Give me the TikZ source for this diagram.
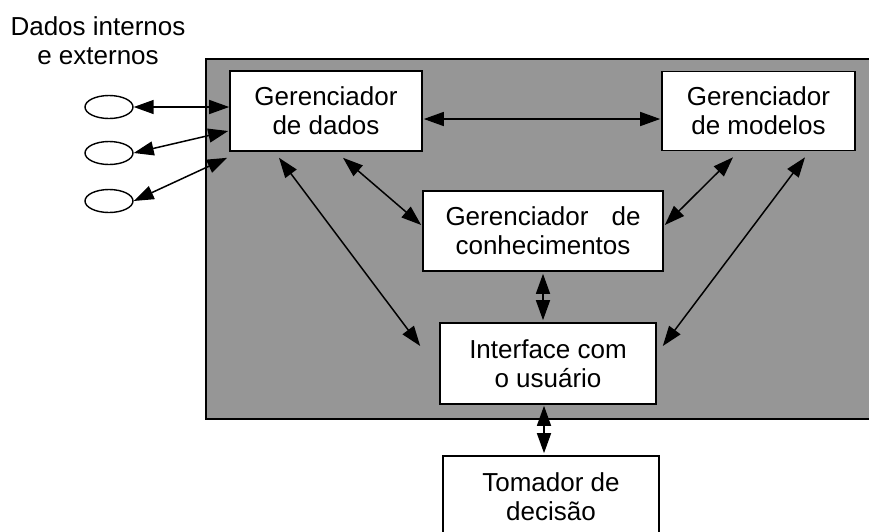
\documentclass[tikz,border=0pt]{standalone}
\usepackage{fontspec}
\setmainfont{Liberation Sans}
\usetikzlibrary{arrows.meta,calc,shapes.geometric}
\definecolor{panelgray}{RGB}{150,150,150}
\tikzset{
  box/.style={draw=black, fill=white, line width=1.6pt, inner sep=0pt, align=center,
    font=\fontsize{26}{29}\selectfont},
  link/.style={line width=1.5pt, {Triangle[length=20pt,width=14pt]}-{Triangle[length=20pt,width=14pt]}},
  src/.style={draw=black, fill=white, line width=1.4pt, ellipse, minimum width=48pt, minimum height=23pt, inner sep=0pt},
  lbl/.style={align=center, inner sep=0pt, font=\fontsize{26}{29}\selectfont}
}
\begin{document}
\begin{tikzpicture}[x=1pt,y=-1pt]
\clip (0,0) rectangle (869,531);
\fill[white] (0,0) rectangle (869,531);
% panel
\draw[fill=panelgray, line width=2.2pt] (206,59) rectangle (890,419);
% label
\node[lbl] (title) at (98,41) {Dados internos\\e externos};
% sources
\node[src] (e1) at (109,107) {};
\node[src] (e2) at (109,153) {};
\node[src] (e3) at (109,201) {};
% boxes
\node[box, minimum width=192pt, minimum height=80pt] (dados) at (326,111) {Gerenciador\\de dados};
\node[box, minimum width=193pt, minimum height=79pt] (modelos) at (758.5,111) {Gerenciador\\de modelos};
\node[box, minimum width=240pt, minimum height=80pt] (conhec) at (543,231) {Gerenciador\hspace{23pt}de\\conhecimentos};
\node[box, minimum width=216pt, minimum height=81pt] (inter) at (548,363.5) {Interface com\\o usuário};
\node[box, minimum width=216pt, minimum height=81pt] (toma) at (551,496.5) {Tomador de\\decisão};
% connectors
\draw[link] (e1.east) -- (e1 -| dados.west);
\draw[link] (e2.east) -- ($(dados.west)+(-1,20)$);
\draw[link] (e3.east) -- ($(dados.south west)+(-2,6)$);
\draw[link] ($(dados.east)+(1,8)$) -- ($(modelos.west)+(-1,8)$);
\draw[link] ($(dados.south)+(17,6)$) -- ($(conhec.west)+(-1,-6)$);
\draw[link] ($(dados.south)+(-47,6)$) -- ($(inter.west)+(-19,-17.5)$);
\draw[link] ($(modelos.south)+(-25.5,6)$) -- ($(conhec.east)+(1,-6)$);
\draw[link] ($(modelos.south)+(46.5,6)$) -- ($(inter.east)+(6,-17.5)$);
\draw[link] ($(conhec.south)+(0,2)$) -- ($(inter.north)+(-5,-2)$);
\draw[link] ($(inter.south)+(-4,1)$) -- ($(toma.north)+(-7,-2)$);
\end{tikzpicture}
\end{document}
